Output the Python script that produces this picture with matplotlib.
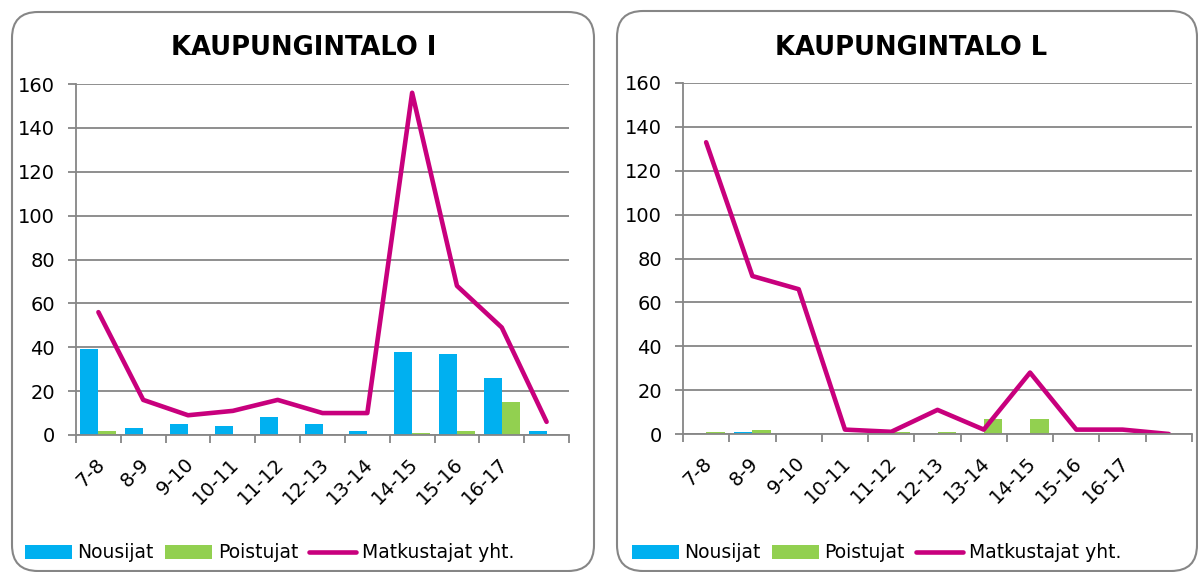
import matplotlib
matplotlib.use('Agg')
import numpy as np
from matplotlib import pyplot as plt
from matplotlib.patches import FancyBboxPatch
from matplotlib.transforms import IdentityTransform

# tunnit (11 luokkaa, viimeisellä ei nimeä)
hours = ['7-8', '8-9', '9-10', '10-11', '11-12', '12-13', '13-14',
         '14-15', '15-16', '16-17', '']

# KAUPUNGINTALO I
nousijat_i = [39, 3, 5, 4, 8, 5, 2, 38, 37, 26, 2]
poistujat_i = [2, 0, 0, 0, 0, 0, 0, 1, 2, 15, 0]
yht_i = [56, 16, 9, 11, 16, 10, 10, 156, 68, 49, 6]

# KAUPUNGINTALO L
nousijat_l = [0, 1, 0, 0, 0, 0, 0, 0, 0, 0, 0]
poistujat_l = [0.8, 2, 0, 0, 1, 1, 7, 7, 0, 0, 0]
yht_l = [133, 72, 66, 2, 1, 11, 2, 28, 2, 2, 0]

titles = ['KAUPUNGINTALO I', 'KAUPUNGINTALO L']
legend_labels = ['Nousijat', 'Poistujat', 'Matkustajat yht.']

BLUE = '#00B0F0'
GREEN = '#92D050'
MAGENTA = '#C8007D'
GRAY = '#868686'

W, H = 1198, 572
plt.rcParams['font.family'] = ['DejaVu Sans']
fig = plt.figure(figsize=(W / 100, H / 100), dpi=100)


def px(x0, y_top, x1, y_bottom):
    # pikselit -> figuurin osuudet
    return [x0 / W, 1 - y_bottom / H, (x1 - x0) / W, (y_bottom - y_top) / H]


def panel(box, ax_rect, title, title_x, legend_x, nous, pois, yht):
    x0, y0, x1, y1 = box
    frame = FancyBboxPatch((x0, H - y1), x1 - x0, y1 - y0,
                           boxstyle='round,pad=0,rounding_size=26',
                           transform=IdentityTransform(),
                           facecolor='white', edgecolor=GRAY, lw=1.5, zorder=0)
    fig.add_artist(frame)
    fig.text(title_x / W, 1 - 48 / H, title, ha='center', va='center',
             fontsize=18.5, fontweight='bold')

    ax = fig.add_axes(px(*ax_rect))
    ax.patch.set_alpha(0)
    x = np.arange(len(hours))
    b1 = ax.bar(x - 0.2, nous, width=0.4, color=BLUE, zorder=3)
    b2 = ax.bar(x + 0.2, pois, width=0.4, color=GREEN, zorder=3)
    l1, = ax.plot(x, yht, color=MAGENTA, lw=3.3, solid_capstyle='round',
                  solid_joinstyle='round', zorder=4)

    ax.set_xlim(-0.5, len(hours) - 0.5)
    ax.set_ylim(0, 160)
    ax.set_yticks(range(0, 161, 20))
    ax.yaxis.grid(True, color=GRAY, lw=1.3)
    ax.set_axisbelow(True)
    for s in ['top', 'right']:
        ax.spines[s].set_visible(False)
    for s in ['left', 'bottom']:
        ax.spines[s].set_color(GRAY)
        ax.spines[s].set_linewidth(1.3)
        ax.spines[s].set_zorder(5)

    ax.set_xticks(np.arange(-0.5, len(hours), 1.0))
    ax.set_xticklabels([])
    ax.set_xticks(x + 0.07, hours, minor=True)
    ax.tick_params(axis='x', which='major', length=6, width=1.3, color=GRAY)
    ax.tick_params(axis='x', which='minor', length=0, pad=19, labelsize=14)
    ax.tick_params(axis='y', length=6, width=1.3, color=GRAY, pad=9,
                   labelsize=14)
    for lab in ax.get_xticklabels(minor=True):
        lab.set_rotation(45)
        lab.set_ha('right')
        lab.set_va('center')
        lab.set_rotation_mode('anchor')

    fig.legend([b1, b2, l1], legend_labels, loc='center left',
               bbox_to_anchor=(legend_x / W, 1 - 553 / H), ncol=3,
               frameon=False, fontsize=13.5, borderpad=0, borderaxespad=0,
               handlelength=2.5, handletextpad=0.3, columnspacing=0.6)


panel((12, 12, 594, 571), (76, 84, 569, 435), titles[0], 304, 25,
      nousijat_i, poistujat_i, yht_i)
panel((617, 11, 1197, 571), (683, 83, 1192, 434), titles[1], 911, 632,
      nousijat_l, poistujat_l, yht_l)

plt.savefig('out.png', dpi=100)
